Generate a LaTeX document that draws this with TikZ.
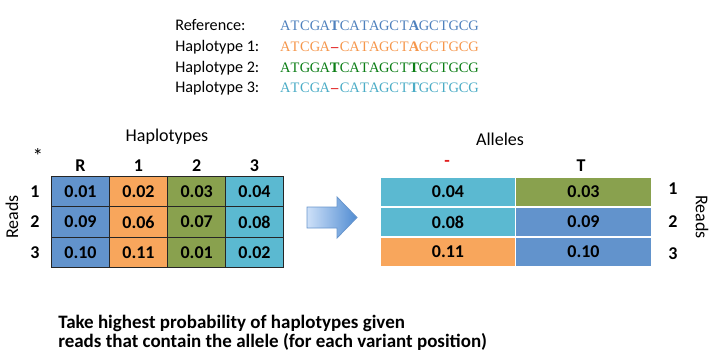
\documentclass[tikz,border=0pt]{standalone}
\usepackage{fontspec}
\setmainfont{Carlito}
\newfontfamily\seqfont{Liberation Serif}
\usetikzlibrary{positioning}
% one character per fixed box, so the rows line up
\def\seqs#1{\ifx\relax#1\else\makebox[7.05pt]{#1}\expandafter\seqs\fi}

\begin{document}
\begin{tikzpicture}[x=0.025cm,y=-0.025cm]
\definecolor{blu}{RGB}{98,147,204}
\definecolor{org}{RGB}{248,166,92}
\definecolor{olv}{RGB}{137,161,78}
\definecolor{cyn}{RGB}{91,185,209}
\definecolor{sref}{RGB}{79,129,189}
\definecolor{shp1}{RGB}{245,150,75}
\definecolor{shp2}{RGB}{10,125,20}
\definecolor{shp3}{RGB}{75,172,198}
\definecolor{dred}{RGB}{225,30,30}
\definecolor{arrL}{RGB}{205,224,248}
\definecolor{arrR}{RGB}{80,140,210}
\definecolor{arrD}{RGB}{105,150,205}
\tikzset{
  hcell/.style={draw=black!85, line width=.7pt, minimum width=1.445cm, minimum height=0.765cm,
    inner sep=0pt, font=\fontsize{12.8}{14}\selectfont\bfseries},
  acell/.style={draw=white, line width=1.1pt, minimum width=3.39cm, minimum height=0.75cm,
    inner sep=0pt, font=\fontsize{12.8}{14}\selectfont\bfseries},
  hdr/.style={font=\fontsize{12.8}{14}\selectfont\bfseries},
  ttl/.style={font=\fontsize{12.8}{14}\selectfont},
  hlab/.style={anchor=base west, inner sep=0pt, font=\fontsize{11.5}{13}\selectfont},
  hseq/.style={anchor=base west, inner sep=0pt, font=\fontsize{10.3}{12}\seqfont},
}
\useasboundingbox (0,0) rectangle (720,363);
%% --- sequences ---
\node[hlab] (lref) at (175,30) {Reference:};
\node[hlab] (lhp1) at (175,51) {Haplotype 1:};
\node[hlab] (lhp2) at (175,72) {Haplotype 2:};
\node[hlab] (lhp3) at (175,92) {Haplotype 3:};
\node[hseq, sref] (qref) at (280,30) {\seqs ATCGA{\bfseries T}CATAGCT{\bfseries A}GCTGCG\relax};
\node[hseq, shp1] (qhp1) at (280,51) {\seqs ATCGA{\textcolor{dred}{\bfseries –}}CATAGCT{\bfseries A}GCTGCG\relax};
\node[hseq, shp2] (qhp2) at (280,72) {\seqs ATGGA{\bfseries T}CATAGCT{\bfseries T}GCTGCG\relax};
\node[hseq, shp3] (qhp3) at (280,92) {\seqs ATCGA{\textcolor{dred}{\bfseries –}}CATAGCT{\bfseries T}GCTGCG\relax};
%% --- haplotype table ---
\node[ttl] (haps) at (167,137) {Haplotypes};
\node[font=\fontsize{15}{16}\selectfont] (star) at (38,156) {*};
\node[hdr] (cR) at (80.5,166) {R};
\node[hdr] (c1) at (138.5,166) {1};
\node[hdr] (c2) at (196.7,166) {2};
\node[hdr] (c3) at (254.5,166) {3};
\node[hdr] (r1) at (35,191.3) {1};
\node[hdr] (r2) at (35,222) {2};
\node[hdr] (r3) at (35,252.5) {3};
\node[ttl, rotate=90] (readsL) at (12,217) {Reads};
\node[hcell, fill=blu] (h11) at (80.5,191.3) {0.01};
\node[hcell, fill=org] (h12) at (138.5,191.3) {0.02};
\node[hcell, fill=olv] (h13) at (196.7,191.3) {0.03};
\node[hcell, fill=cyn] (h14) at (254.5,191.3) {0.04};
\node[hcell, fill=blu] (h21) at (80.5,222) {0.09};
\node[hcell, fill=org] (h22) at (138.5,222) {0.06};
\node[hcell, fill=olv] (h23) at (196.7,222) {0.07};
\node[hcell, fill=cyn] (h24) at (254.5,222) {0.08};
\node[hcell, fill=blu] (h31) at (80.5,252.5) {0.10};
\node[hcell, fill=org] (h32) at (138.5,252.5) {0.11};
\node[hcell, fill=olv] (h33) at (196.7,252.5) {0.01};
\node[hcell, fill=cyn] (h34) at (254.5,252.5) {0.02};
%% --- block arrow ---
\shade[left color=arrL, right color=arrR, draw=arrD, line width=.6pt]
  (307,207) -- (337,207) -- (337,197) -- (357,217.5) -- (337,238) -- (337,228) -- (307,228) -- cycle;
%% --- allele table ---
\node[ttl] (alls) at (500,139) {Alleles};
\node[hdr, dred] (cdel) at (447,163) {-};
\node[hdr] (cT) at (581,166) {T};
\node[hdr] (s1) at (673,189) {1};
\node[hdr] (s2) at (673,222) {2};
\node[hdr] (s3) at (673,254) {3};
\node[ttl, rotate=-90] (readsR) at (702,217) {Reads};
\node[acell, fill=cyn] (a11) at (448,192) {0.04};
\node[acell, fill=olv] (a12) at (583.5,192) {0.03};
\node[acell, fill=cyn] (a21) at (448,222) {0.08};
\node[acell, fill=blu] (a22) at (583.5,222) {0.09};
\node[acell, fill=org] (a31) at (448,252) {0.11};
\node[acell, fill=blu] (a32) at (583.5,252) {0.10};
%% --- note (anchored on its last line) ---
\node[anchor=base west, inner sep=0pt, align=left, font=\fontsize{13.5}{13.5}\selectfont\bfseries] (note) at (58,347)
  {Take highest probability of haplotypes given\\reads that contain the allele (for each variant position)};
\end{tikzpicture}
\end{document}
